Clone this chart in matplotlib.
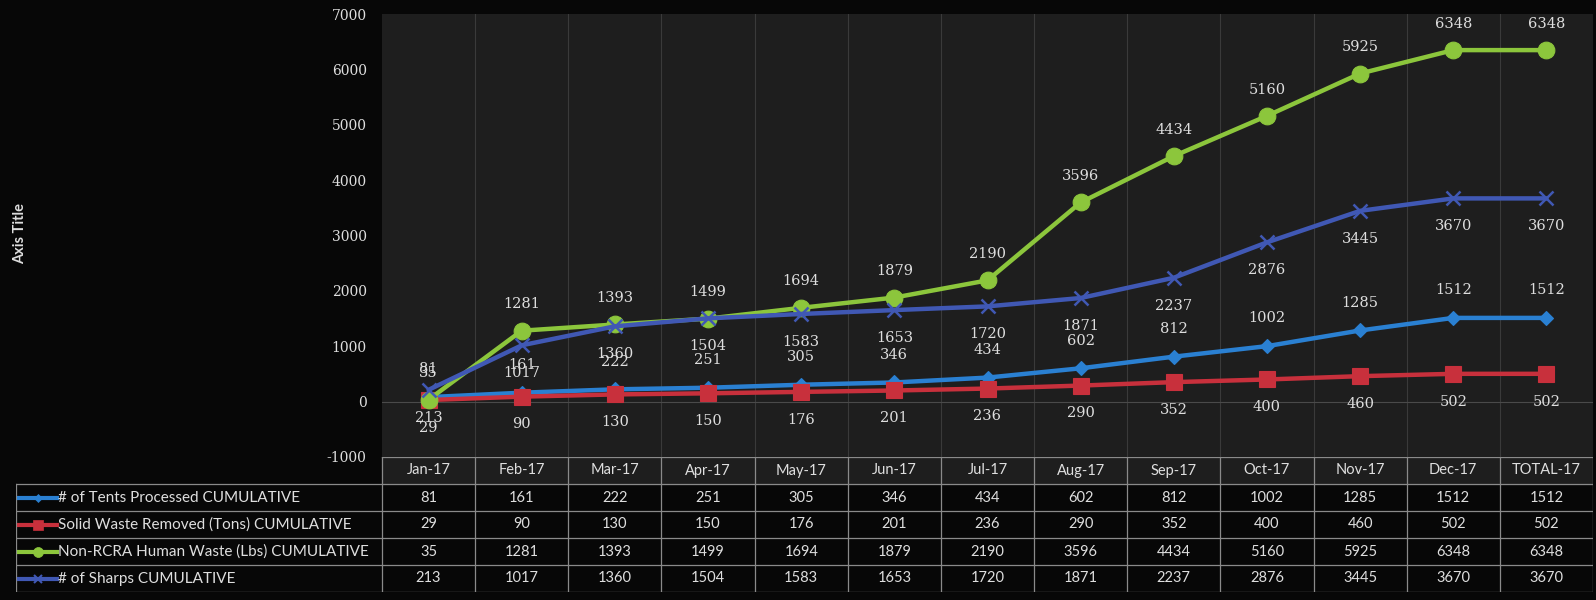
import numpy as np
import matplotlib
matplotlib.use("Agg")
import matplotlib.pyplot as plt
from matplotlib.patches import Rectangle

plt.rcParams["font.family"] = ["Lato", "DejaVu Sans"]

# ---------- data ----------
months = ["Jan-17", "Feb-17", "Mar-17", "Apr-17", "May-17", "Jun-17", "Jul-17",
          "Aug-17", "Sep-17", "Oct-17", "Nov-17", "Dec-17", "TOTAL-17"]
tents = [81, 161, 222, 251, 305, 346, 434, 602, 812, 1002, 1285, 1512, 1512]
solid = [29, 90, 130, 150, 176, 201, 236, 290, 352, 400, 460, 502, 502]
human = [35, 1281, 1393, 1499, 1694, 1879, 2190, 3596, 4434, 5160, 5925, 6348, 6348]
sharps = [213, 1017, 1360, 1504, 1583, 1653, 1720, 1871, 2237, 2876, 3445, 3670, 3670]
names = ["# of Tents Processed CUMULATIVE",
         "Solid Waste Removed (Tons) CUMULATIVE",
         "Non-RCRA Human Waste (Lbs) CUMULATIVE",
         "# of Sharps CUMULATIVE"]

# name, values, colour, marker, marker size, label offset (pt)
series = [
    (names[0], tents,  "#2a80d2", "D", 7,  20),
    (names[1], solid,  "#c8303c", "s", 12, -20),
    (names[2], human,  "#8cc63c", "o", 12, 19),
    (names[3], sharps, "#4058b4", "x", 10, -20),
]

W, H = 1596, 600
BG_FIG = "#070707"
BG_PLOT = "#1e1e1e"
TXT = "#dedede"
SERIF = ["DejaVu Serif"]

fig = plt.figure(figsize=(W / 100, H / 100), dpi=100, facecolor=BG_FIG)

# ---------- main plot ----------
L, R, T, B = 382, 1593, 14, 457
ax = fig.add_axes([L / W, (H - B) / H, (R - L) / W, (B - T) / H])
ax.set_facecolor(BG_PLOT)
x = np.arange(len(months))
for name, vals, col, mk, ms, off in series:
    mew = 1.8 if mk == "x" else 0.8
    ax.plot(x, vals, color=col, lw=3.2, marker=mk, ms=ms, mfc=col, mec=col, mew=mew,
            solid_capstyle="round")
    for xi, v in zip(x, vals):
        ax.annotate(str(v), (xi, v), xytext=(0, off), textcoords="offset points",
                    ha="center", va="center", fontsize=10.5, color=TXT, family=SERIF)

ax.set_xlim(-0.5, len(months) - 0.5)
ax.set_ylim(-1000, 7000)
ax.set_yticks(range(-1000, 8000, 1000))
ax.set_yticklabels([str(v) for v in range(-1000, 8000, 1000)], family=SERIF)
ax.tick_params(axis="y", length=0, pad=11, labelsize=10, labelcolor=TXT)
ax.set_xticks([])
for k in range(1, len(months)):
    ax.axvline(k - 0.5, color="#3a3a3a", lw=0.8, zorder=0)
ax.axhline(0, color="#4a4a4a", lw=0.8, zorder=0)
for s in ax.spines.values():
    s.set_visible(False)

fig.text(20 / W, 1 - 233 / H, "Axis Title", rotation=90, ha="center", va="center",
         fontsize=10.5, fontweight="bold", color=TXT)

# ---------- data table ----------
TL, TT, TB = 16, 457, 592
colw = (R - L) / len(months)
x0 = -0.5 - (L - TL) / colw
tab = fig.add_axes([TL / W, (H - TB) / H, (R - TL) / W, (TB - TT) / H])
tab.set_xlim(x0, len(months) - 0.5)
tab.set_ylim(5, 0)
tab.axis("off")
tab.add_patch(Rectangle((-0.5, 0), len(months), 1, color=BG_PLOT, zorder=0))
lc, lw = "#8a8a8a", 0.9
tab.plot([-0.5, len(months) - 0.5], [0, 0], color=lc, lw=lw)
for r in range(1, 6):
    tab.plot([x0, len(months) - 0.5], [r, r], color=lc, lw=lw)
tab.plot([x0, x0], [1, 5], color=lc, lw=lw)
for k in range(len(months) + 1):
    tab.plot([k - 0.5] * 2, [0, 5], color=lc, lw=lw)
for j, m in enumerate(months):
    tab.text(j, 0.5, m, ha="center", va="center", fontsize=10.5, color=TXT)
for r, (name, vals, col, mk, ms, off) in enumerate(series):
    yc = r + 1.5
    tab.plot([x0 + 0.03, x0 + 0.44], [yc, yc], color=col, lw=3)
    tab.plot([x0 + 0.235], [yc], marker=mk, color=col, ms=ms * 0.6,
             mew=1.5 if mk == "x" else 0.5)
    tab.text(x0 + 0.45, yc, name, ha="left", va="center", fontsize=11, color=TXT)
    for j, v in enumerate(vals):
        tab.text(j, yc, str(v), ha="center", va="center", fontsize=10.5, color=TXT)

fig.savefig("out.png", dpi=100, facecolor=BG_FIG)
